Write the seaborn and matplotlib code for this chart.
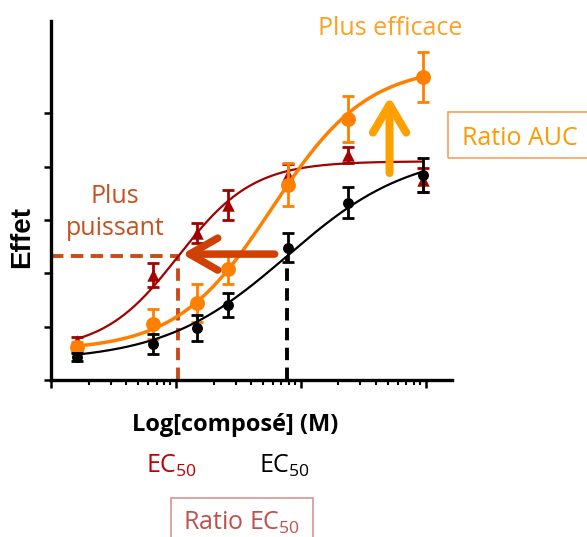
import numpy as np
import matplotlib
matplotlib.use("Agg")
import matplotlib.pyplot as plt
import seaborn as sns
from matplotlib.patches import FancyArrowPatch, Rectangle
from matplotlib.ticker import LogLocator, NullFormatter, FixedLocator

# doses (log10 of concentration in M)
log_conc = [-8.79, -8.18, -7.83, -7.58, -7.10, -6.62, -6.02]

# mean effect and error for each compound
ref_effect = [0.43, 0.68, 0.98, 1.41, 2.48, 3.32, 3.85]
ref_err = [0.08, 0.19, 0.24, 0.22, 0.27, 0.29, 0.32]
puissant_effect = [0.73, 1.97, 2.76, 3.28, 3.85, 4.22, 3.75]
puissant_err = [0.08, 0.23, 0.19, 0.28, 0.20, 0.15, 0.22]
efficace_effect = [0.62, 1.05, 1.44, 2.08, 3.66, 4.90, 5.68]
efficace_err = [0.10, 0.28, 0.36, 0.28, 0.40, 0.43, 0.46]

# fitted Hill curves: bottom, top, logEC50, slope
ref_fit = [0.35, 4.3, -7.11, 0.88]
puissant_fit = [0.55, 4.1, -7.98, 1.45]
efficace_fit = [0.55, 5.9, -7.23, 1.14]

# arrows (log10 x, effect)
arrow_puissant = [(-7.21, -7.95), 2.36]
arrow_efficace = [-6.29, (3.88, 5.31)]

BLACK = "black"
RED = "#A30000"
ORANGE = "#FF8000"
RUST = "#C94A1A"


def hill(logx, p):
    bottom, top, logec50, slope = p
    return bottom + (top - bottom) / (1 + 10 ** ((logec50 - logx) * slope))


sns.set_style("ticks")
plt.rcParams["font.family"] = ["Open Sans", "DejaVu Sans"]
plt.rcParams["text.color"] = "black"
plt.rcParams["axes.labelcolor"] = "black"

fig, ax = plt.subplots(figsize=(5.87, 5.37), dpi=100)
fig.subplots_adjust(left=51 / 587, right=452 / 587, bottom=157 / 537, top=516 / 537)
ax.set_xscale("log")

xs = np.linspace(log_conc[0], log_conc[-1], 200)
conc = 10 ** np.array(log_conc)

# EC50 guide lines
red_mid = hill(puissant_fit[2], puissant_fit)
blk_mid = hill(ref_fit[2], ref_fit)
dash = dict(lw=2.8, dashes=(3.2, 1.9), zorder=1)
ax.plot([1e-9, 10 ** puissant_fit[2]], [red_mid, red_mid], color=RUST, **dash)
ax.plot([10 ** puissant_fit[2]] * 2, [0, red_mid], color=RUST, **dash)
ax.plot([10 ** ref_fit[2]] * 2, [0, blk_mid], color=BLACK, **dash)

series = [
    (puissant_effect, puissant_err, puissant_fit, RED, "^", 80, 1.6, 2),
    (efficace_effect, efficace_err, efficace_fit, ORANGE, "o", 115, 2.5, 3),
    (ref_effect, ref_err, ref_fit, BLACK, "o", 62, 1.6, 4),
]
for eff, err, fit, col, mk, size, lw, z in series:
    sns.lineplot(x=10 ** xs, y=hill(xs, fit), color=col, lw=lw, ax=ax,
                 zorder=z, legend=False)
    ax.errorbar(conc, eff, yerr=err, fmt="none", ecolor=col, elinewidth=2.0,
                capsize=4, capthick=2.0, zorder=z)
    sns.scatterplot(x=conc, y=eff, color=col, marker=mk, s=size,
                    edgecolor=col, linewidth=0, ax=ax, zorder=z + 0.5, legend=False)

# arrows
(xa, xb), ya = arrow_puissant
ax.add_patch(FancyArrowPatch((10 ** xa, ya), (10 ** xb, ya),
                             arrowstyle="->,head_length=0.42,head_width=0.24",
                             mutation_scale=48, lw=5.4, color="#D04000",
                             shrinkA=0, shrinkB=0, capstyle="round",
                             joinstyle="round", zorder=6))
xo, (ya, yb) = arrow_efficace
ax.add_patch(FancyArrowPatch((10 ** xo, ya), (10 ** xo, yb),
                             arrowstyle="->,head_length=0.42,head_width=0.25",
                             mutation_scale=48, lw=5.8, color="#FFA000",
                             shrinkA=0, shrinkB=0, capstyle="round",
                             joinstyle="round", zorder=6))

# axes
ax.set_xlim(1e-9, 10 ** -5.79)
ax.set_ylim(0, 6.73)
ax.xaxis.set_major_locator(LogLocator(base=10, numticks=12))
ax.xaxis.set_minor_locator(LogLocator(base=10, subs=np.arange(2, 10), numticks=12))
ax.xaxis.set_major_formatter(NullFormatter())
ax.xaxis.set_minor_formatter(NullFormatter())
ax.yaxis.set_major_locator(FixedLocator([0, 1, 2, 3, 4, 5]))
ax.set_yticklabels([])
ax.tick_params(axis="x", which="major", length=6, width=1.8, color="black")
ax.tick_params(axis="x", which="minor", length=3.5, width=1.5, color="black")
ax.tick_params(axis="y", length=5, width=1.8, color="black")
sns.despine(ax=ax)
for side in ["left", "bottom"]:
    ax.spines[side].set_linewidth(2.4)
    ax.spines[side].set_color("black")

ax.set_xlabel("Log[composé] (M)", fontsize=17, fontweight="bold", color="black")
ax.xaxis.set_label_coords((235 - 51) / 401, (380 - 431) / 359)
ax.xaxis.label.set_verticalalignment("baseline")
ax.set_ylabel("Effet", fontsize=20, fontweight="bold", family="Liberation Sans",
              color="black")
ax.yaxis.set_label_coords((22 - 51) / 401, (380 - 237) / 359)
ax.yaxis.label.set_verticalalignment("center")


def ftext(x, y, s, **kw):
    fig.text(x / 587, 1 - y / 537, s, ha="center", va="baseline", **kw)


ftext(390, 35, "Plus efficace", fontsize=18, color="#FFA020")
ftext(115, 203, "Plus", fontsize=18, color="#C9501E")
ftext(115, 235, "puissant", fontsize=18, color="#C9501E")
ftext(520, 145, "Ratio AUC", fontsize=18, color="#FF9900")
ftext(172, 473, r"EC$_{\mathregular{50}}$", fontsize=18, color="#C00000")
ftext(285, 473, r"EC$_{\mathregular{50}}$", fontsize=18, color="black")
ftext(242, 530, r"Ratio EC$_{\mathregular{50}}$", fontsize=18, color="#C0504D")

fig.patches.append(Rectangle((448 / 587, 1 - 158 / 537), 144 / 587, 46 / 537,
                             transform=fig.transFigure, fill=False,
                             edgecolor="#F8A15A", lw=1.2))
fig.patches.append(Rectangle((171 / 587, 1 - 560 / 537), 142 / 587, 62 / 537,
                             transform=fig.transFigure, fill=False,
                             edgecolor="#D99594", lw=1.2))

fig.savefig("out.png", dpi=100)
